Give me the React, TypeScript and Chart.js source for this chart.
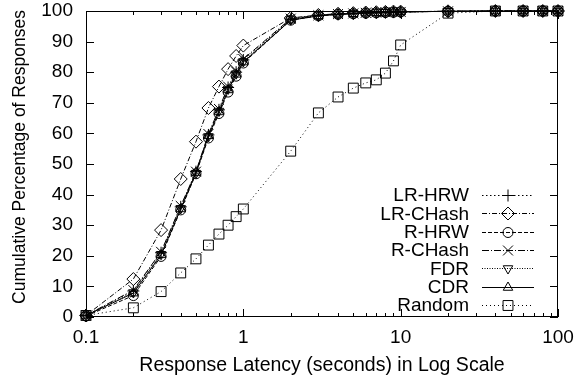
import React, { useEffect, useRef } from 'react';
import { Chart, registerables } from 'chart.js';
import { drawPoint } from 'chart.js/helpers';

Chart.register(...registerables);

// ---- data ----
const latency = [0.1, 0.2, 0.3, 0.4, 0.5, 0.6, 0.7, 0.8, 0.9, 1, 2, 3, 4, 5, 6, 7, 8, 9, 10, 20, 40, 60, 80, 100];

const lrHrw = [0.5, 8.5, 21, 36, 47.5, 59.5, 67.7, 75, 80, 84, 97.3, 98.5, 99, 99.2, 99.4, 99.5, 99.6, 99.7, 99.7, 99.9, 100, 100, 100, 100];
const lrChash = [0.5, 12.4, 28.4, 45.1, 57.3, 68.3, 75.3, 81, 85.3, 88.7, 97.7, 98.7, 99.1, 99.3, 99.5, 99.6, 99.7, 99.8, 99.8, 99.9, 100, 100, 100, 100];
const rHrw = [0.3, 7, 19.8, 35, 46.8, 58.5, 66.5, 73.5, 78.7, 83, 97, 98.4, 98.9, 99.1, 99.3, 99.4, 99.5, 99.6, 99.7, 99.9, 100, 100, 100, 100];
const rChash = [0.5, 8.8, 21.3, 36.3, 47.5, 59.8, 68, 75.3, 80.2, 84.3, 97.5, 98.6, 99, 99.2, 99.4, 99.5, 99.6, 99.7, 99.7, 99.9, 100, 100, 100, 100];
const fdr = [0.5, 8, 20.5, 35.5, 47, 59, 67.3, 74.5, 79.5, 83.5, 97.2, 98.5, 99, 99.2, 99.4, 99.5, 99.6, 99.7, 99.7, 99.9, 100, 100, 100, 100];
const cdr = [0.5, 7.8, 20.3, 35.3, 47.2, 59.2, 67, 74.2, 79.3, 83.3, 97, 98.4, 98.9, 99.1, 99.3, 99.4, 99.5, 99.6, 99.7, 99.9, 100, 100, 100, 100];
const random = [0.5, 3, 8.3, 14.4, 19, 23.5, 27.1, 30, 32.8, 35.3, 54.2, 66.7, 71.9, 74.8, 76.5, 77.5, 79.7, 83.7, 88.9, 99.3, 100, 100, 100, 100];

const seriesNames = ['LR-HRW', 'LR-CHash', 'R-HRW', 'R-CHash', 'FDR', 'CDR', 'Random'];
const seriesValues = [lrHrw, lrChash, rHrw, rChash, fdr, cdr, random];

const xMajorTicks = [0.1, 1, 10, 100];
const xTickLabels = ['0.1', '1', '10', '100'];
const xMinorTicks = [0.2, 0.3, 0.4, 0.5, 0.6, 0.7, 0.8, 0.9, 2, 3, 4, 5, 6, 7, 8, 9, 20, 30, 40, 50, 60, 70, 80, 90];
const yTicks = [0, 10, 20, 30, 40, 50, 60, 70, 80, 90, 100];

const xTitle = 'Response Latency (seconds) in Log Scale';
const yTitle = 'Cumulative Percentage of Responses';

// ---- styles ----
const FONT = '"Liberation Sans", Arial, Helvetica, sans-serif';
const FS = 19;
const styles = [
  { dash: [1.5, 2.5], pointStyle: 'cross', radius: 6, rotation: 0 },
  { dash: [5, 2, 1, 2], pointStyle: 'rectRot', radius: 6.5, rotation: 0 },
  { dash: [4, 2], pointStyle: 'circle', radius: 5, rotation: 0 },
  { dash: [7, 2, 1, 2], pointStyle: 'crossRot', radius: 7, rotation: 0 },
  { dash: [1, 1.5], pointStyle: 'triangle', radius: 5.5, rotation: 180 },
  { dash: [], pointStyle: 'triangle', radius: 5.5, rotation: 0 },
  { dash: [1, 3], pointStyle: 'rect', radius: 7, rotation: 0 },
];

const framePlugin = {
  id: 'frameAndLegend',
  afterDraw(chart: any) {
    const { ctx, chartArea, scales } = chart;
    const { left, right, top, bottom } = chartArea;
    const xs = scales.x;
    const ys = scales.y;
    ctx.save();
    ctx.strokeStyle = '#000';
    ctx.lineWidth = 1;
    ctx.setLineDash([]);
    ctx.strokeRect(left + 0.5, top + 0.5, right - left - 1, bottom - top - 1);
    ctx.beginPath();
    const drawX = (v: number, len: number) => {
      const px = Math.round(xs.getPixelForValue(v)) + 0.5;
      ctx.moveTo(px, bottom);
      ctx.lineTo(px, bottom - len);
      ctx.moveTo(px, top);
      ctx.lineTo(px, top + len);
    };
    xMajorTicks.forEach((v) => drawX(v, 8));
    xMinorTicks.forEach((v) => drawX(v, 4));
    yTicks.forEach((v) => {
      const py = Math.round(ys.getPixelForValue(v)) + 0.5;
      ctx.moveTo(left, py);
      ctx.lineTo(left + 8, py);
      ctx.moveTo(right, py);
      ctx.lineTo(right - 8, py);
    });
    ctx.stroke();

    // axis titles
    ctx.fillStyle = '#000';
    ctx.font = `19.5px ${FONT}`;
    ctx.textAlign = 'center';
    ctx.textBaseline = 'alphabetic';
    ctx.fillText(xTitle, (left + right) / 2, 371);
    ctx.save();
    ctx.font = `17.5px ${FONT}`;
    ctx.translate(25, 157);
    ctx.rotate(-Math.PI / 2);
    ctx.fillText(yTitle, 0, 0);
    ctx.restore();

    // legend
    ctx.font = `${FS}px ${FONT}`;
    const textRight = 469;
    const lineL = 482;
    const lineR = 534;
    const mx = 508;
    chart.data.datasets.forEach((ds: any, i: number) => {
      const ry = 195 + i * 18.33;
      ctx.fillStyle = '#000';
      ctx.textAlign = 'right';
      ctx.textBaseline = 'middle';
      ctx.fillText(ds.label, textRight, ry + 1);
      ctx.strokeStyle = '#000';
      ctx.lineWidth = 1;
      ctx.setLineDash(ds.borderDash || []);
      ctx.beginPath();
      ctx.moveTo(lineL, Math.round(ry) + 0.5);
      ctx.lineTo(lineR, Math.round(ry) + 0.5);
      ctx.stroke();
      ctx.setLineDash([]);
      ctx.fillStyle = 'rgba(0,0,0,0)';
      drawPoint(ctx, {
        pointStyle: ds.pointStyle,
        rotation: ds.pointRotation || 0,
        radius: ds.pointRadius,
        borderWidth: 1,
      } as any, mx, Math.round(ry) + 0.5);
    });
    ctx.restore();
  },
};

export default function App() {
  const ref = useRef<HTMLCanvasElement>(null);
  useEffect(() => {
    if (!ref.current) return;
    const datasets = seriesNames.map((name, i) => ({
      label: name,
      data: latency.map((x, j) => ({ x, y: seriesValues[i][j] })),
      borderColor: '#000',
      backgroundColor: 'rgba(0,0,0,0)',
      borderWidth: 1,
      borderDash: styles[i].dash,
      pointStyle: styles[i].pointStyle,
      pointRadius: styles[i].radius,
      pointRotation: styles[i].rotation,
      pointBorderWidth: 1,
      pointBorderColor: '#000',
      pointBackgroundColor: 'rgba(0,0,0,0)',
      tension: 0,
      fill: false,
      clip: false,
    }));
    const chart = new Chart(ref.current, {
      type: 'line',
      data: { datasets } as any,
      plugins: [framePlugin],
      options: {
        responsive: false,
        animation: false,
        devicePixelRatio: 1,
        layout: { padding: { top: 11, right: 16, left: 0, bottom: 0 } },
        plugins: { legend: { display: false }, tooltip: { enabled: false } },
        scales: {
          x: {
            type: 'logarithmic',
            min: 0.1,
            max: 100,
            grid: { display: false, drawTicks: false },
            border: { display: false },
            afterBuildTicks: (s: any) => {
              s.ticks = xMajorTicks.map((v) => ({ value: v }));
            },
            afterFit: (s: any) => {
              s.height = 62;
              s.paddingLeft = 0;
              s.paddingRight = 0;
            },
            ticks: {
              autoSkip: false,
              maxRotation: 0,
              minRotation: 0,
              padding: 9,
              color: '#000',
              font: { family: FONT, size: FS },
              callback: (v: any) => {
                const idx = xMajorTicks.findIndex((t) => Math.abs(t - Number(v)) < 1e-9);
                return idx >= 0 ? xTickLabels[idx] : '';
              },
            },
          },
          y: {
            min: 0,
            max: 100,
            grid: { display: false, drawTicks: false },
            border: { display: false },
            afterBuildTicks: (s: any) => {
              s.ticks = yTicks.map((v) => ({ value: v }));
            },
            afterFit: (s: any) => {
              s.width = 86;
              s.paddingTop = 0;
              s.paddingBottom = 0;
            },
            ticks: {
              padding: 13,
              color: '#000',
              font: { family: FONT, size: FS },
            },
          },
        },
      } as any,
    });
    return () => chart.destroy();
  }, []);
  return (
    <div style={{ position: 'absolute', left: 0, top: 0, width: 574, height: 379, background: '#fff' }}>
      <canvas ref={ref} width={574} height={379} style={{ display: 'block' }} />
    </div>
  );
}
